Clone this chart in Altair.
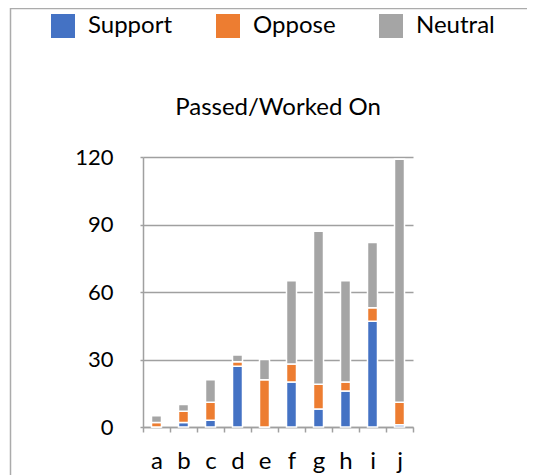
import altair as alt
import pandas as pd

categories = list("abcdefghij")
support = [0, 2, 3, 27, 0, 20, 8, 16, 47, 1]
oppose = [2, 5, 8, 2, 21, 8, 11, 4, 6, 10]
neutral = [3, 3, 10, 3, 9, 37, 68, 45, 29, 108]
series = ["Support", "Oppose", "Neutral"]
colors = ["#4472C4", "#ED7D31", "#A5A5A5"]
y_ticks = [0, 30, 60, 90, 120]

rows = []
for i, c in enumerate(categories):
    for k, (s, vals) in enumerate(zip(series, [support, oppose, neutral])):
        rows.append({"cat": c, "series": s, "value": vals[i], "order": k})
df = pd.DataFrame(rows)

FONT = "Lato"
GRID = "#a0a0a0"

bars = alt.Chart(df).mark_bar(size=10, stroke="white", strokeWidth=1.5).encode(
    x=alt.X("cat:N", sort=categories, title=None,
            scale=alt.Scale(paddingInner=0, paddingOuter=0),
            axis=alt.Axis(labelAngle=0, labelFontSize=24, labelFont=FONT, labelColor="black",
                          tickBand="extent", tickSize=5, tickColor=GRID, tickWidth=1.5,
                          domainColor=GRID, domainWidth=1.5, labelPadding=17, grid=False)),
    y=alt.Y("value:Q", stack="zero", title=None,
            scale=alt.Scale(domain=[0, 120], nice=False),
            axis=alt.Axis(values=y_ticks, labelFontSize=22, labelFont=FONT, labelColor="black",
                          tickSize=3, tickColor=GRID, tickWidth=1.5, domainColor=GRID, domainWidth=1.5,
                          gridColor=GRID, gridWidth=1.5, labelPadding=27)),
    color=alt.Color("series:N", scale=alt.Scale(domain=series, range=colors),
                    legend=alt.Legend(orient="none", legendX=-92, legendY=-143, direction="horizontal",
                                      title=None, symbolType="square", symbolSize=576,
                                      labelFontSize=24, labelFont=FONT, labelColor="black",
                                      labelOffset=13, columnPadding=43, symbolStrokeWidth=0,
                                      symbolOpacity=1)),
    order=alt.Order("order:Q", sort="ascending"),
)

frame_df = pd.DataFrame({"k": [0]})
frame_top = alt.Chart(frame_df).mark_rule(color="#ababab", strokeWidth=1.5).encode(
    x=alt.value(-133), x2=alt.value(384), y=alt.value(-148.5))
frame_left = alt.Chart(frame_df).mark_rule(color="#ababab", strokeWidth=1.5).encode(
    x=alt.value(-132.5), y=alt.value(-149), y2=alt.value(330))

chart = alt.layer(bars, frame_top, frame_left).properties(
    width=270, height=270,
    padding={"left": 135, "top": 149, "right": 114, "bottom": 48},
    autosize=alt.AutoSizeParams(type="none"),
    title=alt.TitleParams("Passed/Worked On", fontSize=24, font=FONT, fontWeight="normal",
                          color="black", frame="group", offset=0, dy=113, anchor="middle"),
).configure_view(strokeWidth=0)

chart.save("out.html", embed_options={"renderer": "svg", "actions": False})
